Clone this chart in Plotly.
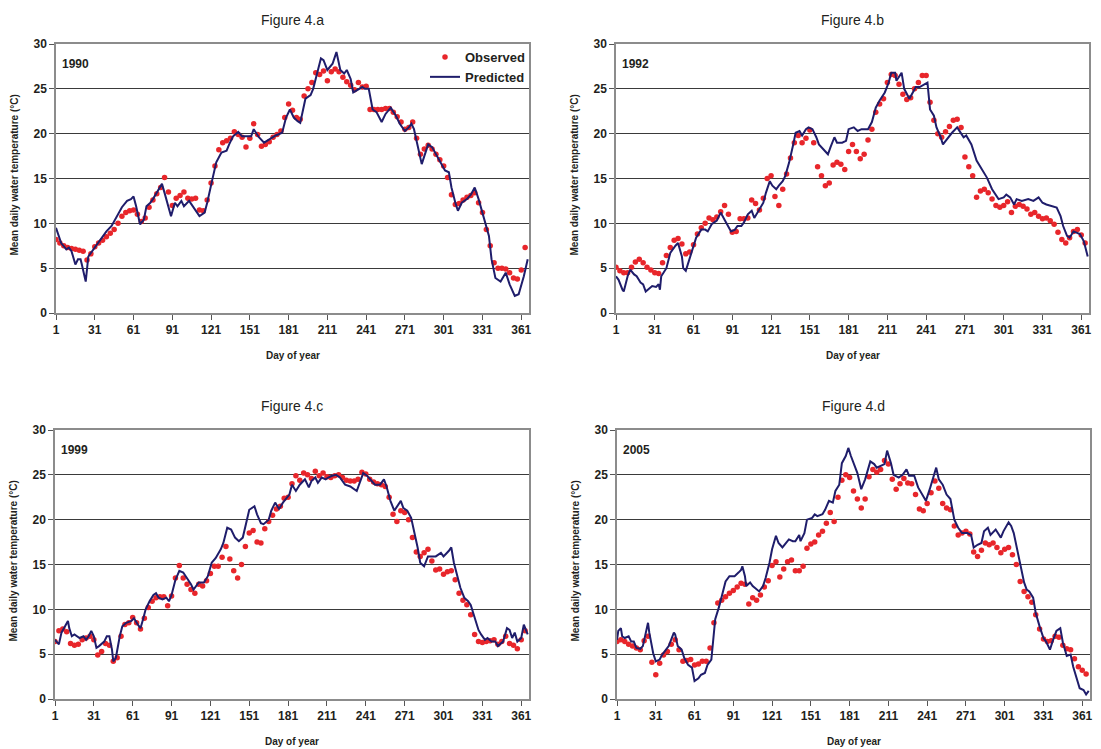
import plotly.graph_objects as go

W, H = 1101, 749
RED = "#e8262b"
NAVY = "#1f1d6b"
TXT = "#231f20"

obs_days = list(range(1, 365, 3))

obs_a = [8.2, 7.8, 7.5, 7.3, 7.2, 7.1, 7.0, 6.9, 5.9, 6.6,
         7.4, 7.8, 8.1, 8.5, 8.9, 9.3, 10.0, 10.8, 11.2, 11.4,
         11.5, 11.0, 10.2, 10.6, 11.8, 12.6, 13.3, 14.0, 15.1, 13.5,
         12.0, 12.8, 13.1, 13.5, 12.8, 12.7, 12.8, 11.5, 11.4, 12.6,
         14.5, 16.4, 18.2, 19.0, 19.2, 19.5, 20.2, 19.9, 19.6, 18.5,
         19.5, 21.1, 19.9, 18.6, 18.8, 19.1, 19.6, 19.9, 20.3, 21.8,
         23.3, 22.6, 21.8, 21.6, 24.2, 25.0, 25.7, 26.8, 26.6, 27.0,
         25.9, 26.9, 27.2, 26.9, 26.3, 25.8, 25.4, 24.9, 25.7, 25.2,
         25.3, 22.7, 22.7, 22.7, 22.7, 22.8, 22.8, 22.4, 21.9, 21.3,
         20.5, 20.7, 21.3, 19.5, 17.7, 18.3, 18.7, 18.3, 17.7, 17.1,
         16.4, 15.1, 13.2, 12.1, 12.2, 12.6, 12.9, 13.1, 13.4, 12.3,
         11.2, 9.3, 7.5, 5.6, 5.0, 5.0, 4.9, 4.5, 3.9, 3.8,
         4.8, 7.3]

pred_a_day = [1, 5, 9, 11, 13, 16, 18, 20, 21, 24, 26, 30, 35, 40, 44, 48, 52, 56, 59, 61,
              63, 66, 69, 71, 74, 76, 79, 83, 85, 88, 90, 93, 95, 98, 100, 104, 108, 112, 116, 118,
              122, 125, 129, 133, 135, 138, 142, 145, 149, 152, 154, 158, 162, 166, 171, 176, 179, 182, 185, 188,
              190, 194, 198, 200, 203, 206, 208, 211, 215, 218, 221, 224, 226, 229, 231, 235, 238, 240, 243, 246,
              249, 253, 256, 260, 264, 267, 271, 274, 276, 278, 281, 284, 286, 289, 292, 296, 300, 302, 305, 307,
              310, 312, 315, 319, 322, 325, 328, 332, 336, 338, 341, 345, 349, 352, 356, 359, 363, 366]
pred_a = [9.5, 7.8, 7.1, 7.3, 6.9, 5.4, 6.0, 6.0, 5.4, 3.5, 6.3, 7.1, 8.2, 9.1, 9.7, 10.8, 11.8, 12.5, 12.7, 13.0,
          11.9, 9.9, 10.4, 11.9, 12.3, 12.7, 13.4, 14.4, 13.4, 11.9, 10.8, 12.3, 11.9, 12.5, 11.9, 12.5, 11.6, 10.8, 11.2, 12.3,
          14.9, 16.8, 17.9, 18.1, 18.8, 19.7, 20.2, 19.7, 19.7, 19.7, 20.5, 19.6, 19.0, 19.4, 19.8, 20.1, 21.8, 22.7, 21.8, 21.4,
          21.2, 23.9, 24.3, 25.0, 26.7, 28.4, 28.2, 27.1, 27.8, 29.1, 27.1, 26.7, 27.1, 26.1, 24.6, 25.0, 25.2, 25.0, 25.0, 22.7,
          22.4, 21.3, 22.2, 22.9, 22.0, 21.1, 20.3, 20.7, 21.1, 20.5, 18.7, 16.6, 17.5, 18.8, 18.5, 17.4, 16.4, 15.9, 15.7, 14.0,
          12.3, 11.4, 12.3, 12.7, 13.2, 14.0, 12.7, 10.6, 8.6, 6.0, 3.9, 3.5, 4.5, 3.2, 1.9, 2.1, 4.1, 6.0]

obs_b = [5.1, 4.7, 4.5, 4.5, 5.1, 5.7, 6.0, 5.6, 5.1, 4.8,
         4.5, 4.4, 5.6, 6.4, 7.3, 8.1, 8.3, 7.7, 6.6, 6.8,
         7.6, 8.8, 9.5, 10.0, 10.6, 10.4, 10.7, 11.3, 12.0, 11.0,
         9.0, 9.1, 10.5, 10.5, 10.6, 12.6, 12.2, 11.5, 12.8, 15.0,
         15.3, 13.0, 12.0, 13.8, 15.5, 17.3, 19.0, 19.8, 19.0, 19.5,
         20.4, 19.0, 16.3, 15.3, 14.2, 14.5, 16.5, 16.8, 16.6, 16.0,
         18.0, 18.8, 18.0, 17.2, 17.7, 19.3, 20.5, 22.4, 23.3, 23.9,
         25.7, 26.6, 26.5, 25.5, 24.4, 23.8, 24.0, 25.0, 25.7, 26.5,
         26.5, 23.5, 21.5, 20.0, 19.6, 20.2, 20.8, 21.5, 21.6, 20.7,
         17.4, 16.3, 15.3, 12.9, 13.6, 13.8, 13.4, 12.7, 12.0, 11.8,
         12.0, 12.4, 11.2, 11.9, 12.1, 11.9, 11.6, 11.0, 11.2, 10.8,
         10.5, 10.6, 10.3, 9.9, 9.0, 8.2, 7.8, 8.4, 9.1, 9.3,
         8.7, 7.8]

pred_b_day = [1, 3, 6, 7, 10, 12, 15, 17, 20, 22, 24, 26, 29, 32, 34, 35, 36, 40, 43, 47,
              49, 52, 53, 55, 58, 61, 63, 67, 70, 72, 75, 79, 82, 85, 88, 90, 93, 95, 98, 100,
              103, 106, 108, 111, 115, 117, 120, 122, 125, 127, 130, 132, 135, 138, 140, 143, 145, 148, 150, 153,
              156, 158, 162, 165, 167, 170, 172, 176, 179, 181, 185, 188, 191, 196, 199, 202, 205, 209, 212, 214,
              217, 218, 222, 224, 228, 231, 233, 236, 239, 242, 244, 247, 249, 252, 254, 257, 261, 265, 267, 270,
              272, 276, 280, 284, 288, 292, 294, 297, 301, 303, 306, 309, 311, 315, 320, 324, 328, 331, 334, 338,
              342, 345, 347, 350, 352, 355, 358, 360, 363, 366]
pred_b = [4.1, 3.7, 2.6, 2.4, 4.1, 4.85, 4.3, 4.1, 3.4, 3.2, 2.4, 2.6, 3.0, 2.9, 3.2, 2.6, 4.1, 5.0, 6.7, 7.5,
          7.8, 6.3, 5.0, 4.7, 6.0, 7.5, 8.4, 9.3, 9.3, 9.1, 9.9, 10.3, 11.2, 10.4, 9.7, 9.1, 9.3, 9.7, 9.7, 10.1,
          11.0, 11.4, 10.6, 11.4, 12.3, 13.4, 14.7, 14.2, 13.8, 14.2, 14.7, 15.3, 16.8, 18.7, 20.1, 20.3, 19.8, 20.5, 20.7, 20.5,
          19.6, 18.8, 18.1, 17.7, 18.5, 19.6, 19.0, 19.0, 19.2, 20.5, 20.7, 20.3, 20.5, 20.5, 21.3, 22.9, 23.7, 24.6, 25.7, 26.8,
          26.8, 25.9, 26.8, 25.0, 23.9, 24.6, 25.2, 25.2, 25.5, 25.7, 22.7, 22.0, 20.7, 19.7, 18.8, 19.4, 20.1, 20.7, 20.3, 19.6,
          19.8, 18.8, 17.0, 16.0, 15.1, 13.8, 13.4, 12.7, 12.9, 13.2, 12.9, 12.1, 12.7, 12.5, 12.7, 12.5, 12.9, 12.3, 12.1, 11.9,
          11.75, 10.8, 9.7, 8.6, 8.4, 9.1, 8.95, 8.8, 8.0, 6.3]

obs_c = [6.4, 7.6, 7.8, 7.5, 6.2, 6.0, 6.1, 6.6, 6.8, 7.0,
         6.6, 4.9, 5.3, 6.2, 6.0, 4.2, 4.6, 7.0, 8.3, 8.5,
         9.1, 8.5, 7.8, 9.0, 10.2, 10.9, 11.3, 11.4, 11.4, 10.4,
         11.5, 13.5, 14.9, 13.5, 12.8, 12.2, 11.8, 12.8, 12.6, 13.2,
         14.0, 14.8, 14.8, 15.8, 17.0, 15.6, 14.3, 13.5, 15.0, 17.0,
         18.5, 18.8, 17.5, 17.4, 19.0, 19.8, 20.5, 21.2, 21.5, 22.4,
         22.5, 24.0, 24.9, 24.4, 25.2, 25.0, 24.6, 25.4, 24.9, 25.2,
         24.8, 24.7, 24.9, 25.0, 24.7, 24.4, 24.3, 24.3, 24.5, 25.3,
         25.1, 24.5, 24.2, 24.0, 23.9, 23.7, 22.5, 20.6, 19.8, 21.0,
         20.8, 20.0, 18.0, 16.4, 15.9, 16.3, 16.7, 15.4, 14.4, 14.5,
         13.9, 14.2, 14.3, 13.3, 11.8, 11.0, 10.5, 9.4, 7.2, 6.4,
         6.3, 6.4, 6.5, 6.6, 6.1, 6.4, 7.0, 6.2, 6.0, 5.6,
         6.6, 7.6]

pred_c_day = [1, 4, 6, 9, 11, 12, 14, 16, 20, 23, 25, 27, 29, 31, 33, 35, 39, 41, 43, 45,
              46, 48, 51, 53, 56, 60, 62, 65, 67, 69, 71, 74, 77, 79, 81, 84, 87, 89, 91, 94,
              97, 100, 102, 106, 108, 110, 112, 116, 119, 122, 125, 129, 131, 134, 137, 140, 143, 146, 148, 151,
              155, 157, 160, 162, 166, 168, 171, 174, 177, 180, 182, 184, 187, 190, 194, 197, 199, 202, 204, 207,
              210, 212, 215, 218, 221, 225, 229, 234, 237, 239, 242, 246, 248, 252, 255, 257, 260, 263, 265, 268,
              270, 273, 276, 278, 281, 283, 286, 289, 292, 295, 299, 301, 305, 307, 309, 312, 314, 317, 320, 322,
              325, 328, 330, 333, 335, 338, 341, 343, 347, 350, 352, 354, 356, 358, 361, 363, 366]
pred_c = [6.6, 6.1, 7.4, 8.1, 8.7, 7.9, 7.0, 7.2, 6.8, 7.0, 6.6, 7.0, 7.6, 7.0, 5.7, 5.9, 6.4, 7.0, 7.0, 5.5,
          4.2, 4.6, 7.0, 8.1, 8.5, 8.7, 9.0, 8.3, 7.9, 8.9, 10.0, 10.9, 11.6, 11.8, 11.3, 11.1, 11.3, 10.9, 11.6, 13.3,
          14.3, 14.1, 13.7, 12.8, 12.2, 12.6, 13.0, 13.0, 13.7, 15.2, 15.7, 16.7, 17.4, 19.1, 18.9, 18.0, 17.6, 18.0, 19.3, 21.1,
          21.5, 20.6, 19.6, 19.5, 20.0, 21.0, 21.9, 21.2, 21.9, 22.5, 22.8, 23.9, 23.2, 23.9, 24.5, 23.6, 24.3, 24.7, 24.1, 24.7,
          24.5, 24.7, 24.9, 25.0, 24.7, 23.9, 23.7, 23.2, 24.3, 25.2, 24.9, 24.3, 23.9, 23.9, 24.5, 23.7, 22.1, 21.0, 21.5, 22.1,
          21.3, 21.0, 20.2, 18.9, 16.9, 15.2, 14.8, 15.9, 15.9, 15.9, 16.3, 15.9, 16.5, 16.9, 15.2, 13.7, 12.4, 11.3, 10.9, 10.5,
          9.2, 7.7, 7.2, 6.6, 6.8, 6.4, 6.4, 5.9, 6.4, 7.9, 7.7, 6.8, 7.4, 6.4, 6.8, 8.3, 7.2]

obs_d = [6.4, 6.6, 6.4, 6.1, 5.9, 5.7, 5.5, 6.5, 7.0, 4.1,
         2.7, 4.0, 4.9, 5.3, 6.1, 6.6, 5.5, 4.2, 4.3, 4.4,
         3.8, 3.9, 4.2, 4.2, 5.7, 8.5, 10.7, 11.0, 11.4, 11.8,
         12.1, 12.5, 12.9, 12.8, 10.6, 11.3, 11.0, 11.6, 12.5, 13.2,
         14.9, 15.3, 13.6, 14.5, 15.3, 15.5, 14.3, 14.3, 14.8, 16.8,
         17.3, 17.5, 18.3, 18.7, 19.6, 20.8, 19.8, 22.5, 24.4, 25.0,
         24.7, 23.2, 22.3, 21.3, 22.3, 24.8, 25.6, 25.3, 25.6, 26.6,
         26.2, 24.5, 23.4, 24.0, 24.6, 24.1, 24.0, 22.8, 21.2, 21.0,
         21.8, 23.0, 24.3, 23.5, 21.8, 21.3, 21.1, 19.3, 18.3, 18.5,
         18.7, 18.4, 16.4, 15.9, 16.6, 17.4, 17.2, 17.4, 16.9, 16.3,
         16.7, 16.9, 16.1, 15.0, 13.1, 12.0, 11.4, 10.8, 9.4, 7.8,
         6.7, 6.4, 6.5, 7.0, 6.9, 6.0, 5.6, 5.5, 4.5, 3.6,
         3.2, 2.8]

pred_d_day = [1, 2, 4, 5, 7, 10, 12, 14, 16, 19, 21, 23, 25, 26, 29, 31, 34, 36, 39, 41,
              45, 46, 48, 51, 53, 56, 59, 61, 64, 66, 69, 71, 74, 75, 77, 80, 82, 85, 88, 92,
              95, 97, 98, 100, 101, 104, 106, 109, 111, 114, 116, 119, 121, 124, 126, 129, 132, 134, 137, 139,
              142, 143, 146, 148, 152, 154, 156, 160, 162, 165, 168, 170, 173, 175, 178, 180, 182, 184, 187, 190,
              193, 197, 200, 202, 205, 208, 210, 213, 215, 219, 222, 225, 227, 231, 234, 237, 240, 243, 246, 248,
              250, 253, 256, 259, 262, 265, 268, 272, 275, 277, 280, 283, 285, 288, 290, 294, 298, 300, 304, 306,
              308, 311, 314, 316, 318, 320, 323, 325, 328, 331, 333, 336, 338, 341, 344, 346, 349, 352, 354, 357,
              359, 362, 364, 366]
pred_d = [6.6, 7.6, 7.9, 7.0, 6.8, 7.0, 6.4, 6.4, 5.7, 5.6, 5.9, 7.4, 8.5, 7.4, 5.1, 4.2, 4.4, 4.95, 5.5, 5.9,
          7.4, 7.2, 5.9, 5.5, 4.6, 3.8, 3.5, 2.0, 2.3, 2.7, 2.9, 3.8, 4.4, 5.9, 8.9, 10.3, 11.5, 13.1, 13.7, 13.7,
          14.1, 14.4, 14.8, 13.7, 12.6, 13.0, 12.6, 12.2, 12.0, 12.6, 13.5, 15.2, 16.7, 18.2, 17.4, 16.9, 17.4, 17.8, 17.6, 17.6,
          18.3, 17.6, 18.5, 20.0, 20.2, 20.6, 20.4, 20.6, 21.1, 22.1, 21.9, 23.2, 23.9, 26.3, 27.1, 28.0, 27.1, 26.3, 25.2, 23.4,
          24.5, 26.5, 26.2, 25.8, 26.0, 26.2, 27.7, 26.3, 25.0, 24.7, 25.0, 25.6, 24.9, 24.9, 23.6, 22.8, 22.1, 23.4, 24.7, 25.8,
          24.5, 23.9, 22.8, 22.3, 20.0, 19.1, 18.5, 18.5, 18.3, 16.9, 17.2, 17.4, 18.7, 19.1, 18.3, 18.9, 18.0, 18.7, 19.7, 19.3,
          18.5, 16.5, 14.4, 13.0, 12.2, 12.0, 11.3, 9.6, 8.1, 6.8, 6.4, 5.5, 6.4, 7.6, 7.9, 6.3, 4.8, 4.95, 3.6, 2.3,
          1.2, 1.0, 0.5, 0.9]

x_ticks = [1, 31, 61, 91, 121, 151, 181, 211, 241, 271, 301, 331, 361]

panels = [
    dict(title="Figure 4.a", year="1990", obs=obs_a, pday=pred_a_day, pred=pred_a,
         x0=56, x1=529, y0=44, y1=313),
    dict(title="Figure 4.b", year="1992", obs=obs_b, pday=pred_b_day, pred=pred_b,
         x0=616, x1=1089, y0=44, y1=313),
    dict(title="Figure 4.c", year="1999", obs=obs_c, pday=pred_c_day, pred=pred_c,
         x0=55, x1=529, y0=430, y1=699),
    dict(title="Figure 4.d", year="2005", obs=obs_d, pday=pred_d_day, pred=pred_d,
         x0=617, x1=1090, y0=430, y1=699),
]

fig = go.Figure()
annotations = []
layout_axes = {}
for i, p in enumerate(panels):
    k = "" if i == 0 else str(i + 1)
    fig.add_trace(go.Scatter(
        x=obs_days[:len(p["obs"])], y=p["obs"], mode="markers", name="Observed",
        marker=dict(color=RED, size=5.5, line=dict(width=0)),
        showlegend=(i == 0), xaxis="x" + k, yaxis="y" + k))
    fig.add_trace(go.Scatter(
        x=p["pday"], y=p["pred"], mode="lines", name="Predicted",
        line=dict(color=NAVY, width=2),
        showlegend=(i == 0), xaxis="x" + k, yaxis="y" + k))

    xd = [p["x0"] / W, p["x1"] / W]
    yd = [1 - p["y1"] / H, 1 - p["y0"] / H]
    layout_axes["xaxis" + k] = dict(
        domain=xd, anchor="y" + k, range=[1, 367], tickmode="array", tickvals=x_ticks,
        ticks="outside", ticklen=5, tickcolor="#555", showgrid=False, zeroline=False,
        showline=True, mirror=True, linecolor="#8c8c8c", linewidth=1.5, automargin=False,
        tickfont=dict(family="Liberation Sans", size=12, color=TXT, weight="bold"))
    layout_axes["yaxis" + k] = dict(
        domain=yd, anchor="x" + k, range=[0, 30], tickmode="array",
        tickvals=[0, 5, 10, 15, 20, 25, 30],
        ticks="outside", ticklen=5, tickcolor="#555", showgrid=True, gridcolor="#3a3a3a",
        gridwidth=1, zeroline=False, showline=True, mirror=True, linecolor="#8c8c8c",
        linewidth=1.5, automargin=False,
        tickfont=dict(family="Liberation Sans", size=12, color=TXT, weight="bold"))

    cx = (p["x0"] + p["x1"]) / 2 / W
    annotations.append(dict(text=p["title"], x=cx, y=1 - (p["y0"] - 24) / H,
                            xref="paper", yref="paper", showarrow=False,
                            xanchor="center", yanchor="middle",
                            font=dict(family="Liberation Sans", size=14, color=TXT)))
    annotations.append(dict(text="<b>%s</b>" % p["year"], x=(p["x0"] + 4) / W,
                            y=1 - (p["y0"] + 20) / H, xref="paper", yref="paper",
                            showarrow=False, xanchor="left", yanchor="middle",
                            font=dict(family="Liberation Sans", size=12, color=TXT)))
    annotations.append(dict(text="<b>Day of year</b>", x=cx, y=1 - (p["y1"] + 42) / H,
                            xref="paper", yref="paper", showarrow=False,
                            xanchor="center", yanchor="middle",
                            font=dict(family="Liberation Sans", size=10, color=TXT)))
    annotations.append(dict(text="<b>Mean daily water temperature (°C)</b>",
                            x=(p["x0"] - 42) / W, y=1 - ((p["y0"] + p["y1"]) / 2 - 3) / H,
                            xref="paper", yref="paper", showarrow=False, textangle=-90,
                            xanchor="center", yanchor="middle",
                            font=dict(family="Liberation Sans", size=10, color=TXT)))

fig.update_layout(
    width=W, height=H, autosize=False,
    margin=dict(l=0, r=0, t=0, b=0, pad=0, autoexpand=False),
    paper_bgcolor="white", plot_bgcolor="white",
    font=dict(family="Liberation Sans", color=TXT),
    annotations=annotations,
    legend=dict(x=531 / W, y=1 - 42 / H, xanchor="right", yanchor="top",
                bgcolor="rgba(0,0,0,0)", tracegroupgap=0, itemwidth=30,
                font=dict(family="Liberation Sans", size=13, color=TXT, weight="bold")),
    **layout_axes,
)

fig.write_html("out.html",
               config={"displayModeBar": False},
               post_script="document.body.style.margin='0';document.body.style.overflow='hidden';")
